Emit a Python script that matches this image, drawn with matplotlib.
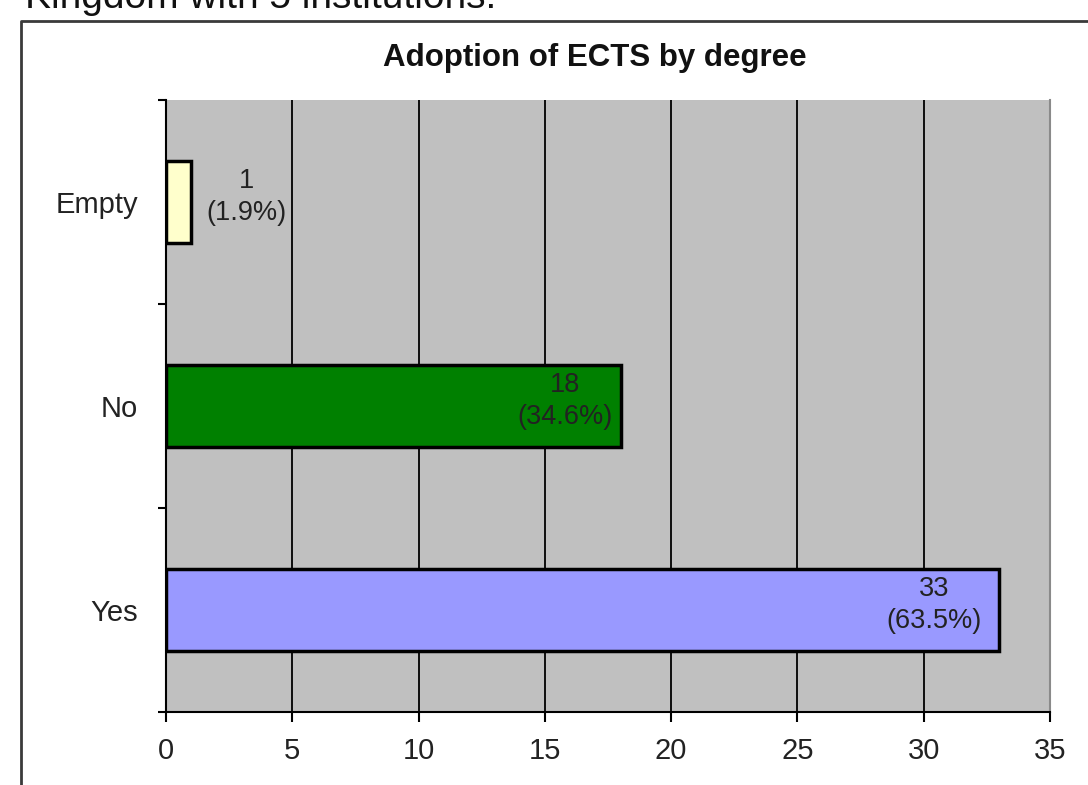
import matplotlib
matplotlib.use("Agg")
import matplotlib.pyplot as plt
from matplotlib.lines import Line2D

# ── data ────────────────────────────────────────────────────────────────
categories = ["Yes", "No", "Empty"]
counts = [33, 18, 1]
percents = ["63.5%", "34.6%", "1.9%"]
colors = ["#9999ff", "#008000", "#ffffcc"]
# label offsets from the bar end, in pixels (x)
label_dx = [-65, -56, 55]

W, H = 1088, 785
plt.rcParams["font.family"] = ["Liberation Sans", "DejaVu Sans"]

fig = plt.figure(figsize=(W / 100, H / 100), dpi=100)
fig.patch.set_facecolor("white")

# ── cropped heading + outer chart frame ────────────────────────────────
fig.text(25 / W, 1 - 8 / H, "Kingdom with 5 institutions:", fontsize=28,
         ha="left", va="baseline", color="#111111")
fig.add_artist(Line2D([21 / W, 21 / W, 1.0], [0.0, 1 - 21 / H, 1 - 21 / H],
                      transform=fig.transFigure, color="#3a3a3a", lw=2))

fig.text(595 / W, 1 - 58 / H, "Adoption of ECTS by degree", fontsize=22.5,
         fontweight="bold", ha="center", va="center", color="#111111")

# ── plot area ───────────────────────────────────────────────────────────
left, right, top, bottom = 166, 1050, 100, 712
ax = fig.add_axes([left / W, 1 - bottom / H, (right - left) / W, (bottom - top) / H])
ax.set_facecolor("#c0c0c0")

ypos = list(range(len(categories)))
ax.barh(ypos, counts, height=0.4, color=colors, edgecolor="black", lw=2.5, zorder=3)

ax.set_xlim(0, 35)
ax.set_ylim(-0.5, len(categories) - 0.5)
ax.set_xticks(range(0, 36, 5))
ax.set_yticks(ypos)
ax.set_yticklabels(categories)
ax.set_yticks([y - 0.5 for y in ypos] + [len(categories) - 0.5], minor=True)

ax.tick_params(axis="y", which="major", length=0, pad=20, labelsize=21,
               labelcolor="#222222")
ax.tick_params(axis="y", which="minor", length=6, width=1.5, direction="out",
               color="black")
ax.tick_params(axis="x", length=7, width=1.5, direction="out", pad=11,
               labelsize=21, labelcolor="#222222", color="black")

for x in range(5, 35, 5):
    ax.axvline(x, color="black", lw=1.3, zorder=1)

ax.spines["top"].set_visible(False)
ax.spines["right"].set_color("#8a8a8a")
ax.spines["right"].set_linewidth(1.5)
ax.spines["left"].set_linewidth(1.5)
ax.spines["bottom"].set_linewidth(1.5)

for y, c, p, dx in zip(ypos, counts, percents, label_dx):
    ax.annotate(f"{c}\n({p})", xy=(c, y), xytext=(dx * 0.72, 5 * 0.72),
                textcoords="offset points", ha="center", va="center",
                multialignment="center", fontsize=19.5, color="#222222",
                linespacing=1.3, zorder=4)

fig.savefig("out.png", dpi=100, facecolor="white")
